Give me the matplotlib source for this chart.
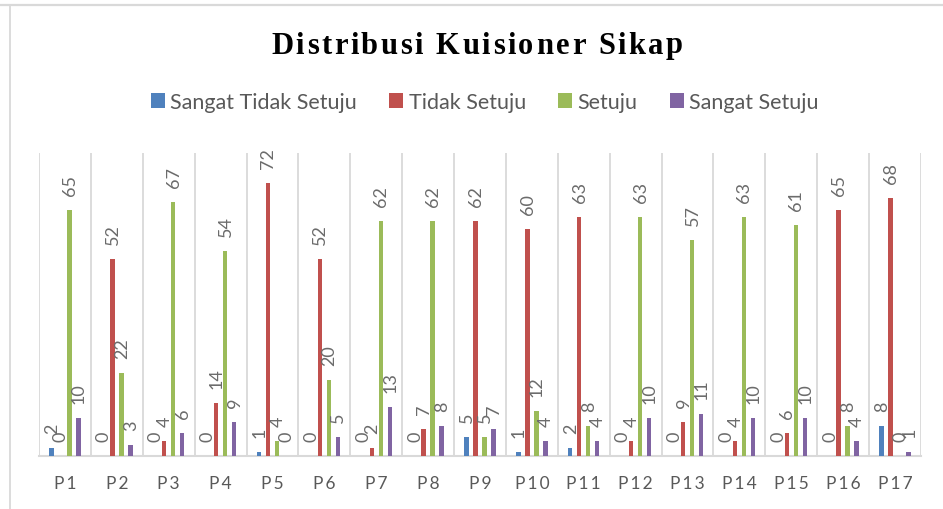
import matplotlib
matplotlib.use("Agg")
import matplotlib.pyplot as plt
import numpy as np
from matplotlib.lines import Line2D
from matplotlib.patches import Patch
from matplotlib import font_manager
from matplotlib.ft2font import FT2Font

categories = ["P1", "P2", "P3", "P4", "P5", "P6", "P7", "P8", "P9", "P10",
              "P11", "P12", "P13", "P14", "P15", "P16", "P17"]
sangat_tidak_setuju = [2, 0, 0, 0, 1, 0, 0, 0, 5, 1, 2, 0, 0, 0, 0, 0, 8]
tidak_setuju = [0, 52, 4, 14, 72, 52, 2, 7, 62, 60, 63, 4, 9, 4, 6, 65, 68]
setuju = [65, 22, 67, 54, 4, 20, 62, 62, 5, 12, 8, 63, 57, 63, 61, 8, 0]
sangat_setuju = [10, 3, 6, 9, 0, 5, 13, 8, 7, 4, 4, 10, 11, 10, 10, 4, 1]

series_names = ["Sangat Tidak Setuju", "Tidak Setuju", "Setuju", "Sangat Setuju"]
series = [sangat_tidak_setuju, tidak_setuju, setuju, sangat_setuju]
colors = ["#4F81BD", "#C0504D", "#9BBB59", "#8064A2"]
title = "Distribusi Kuisioner Sikap"

W, H = 943, 510
fig = plt.figure(figsize=(W / 100, H / 100), dpi=100)
plt.rcParams['font.family'] = ['Lato', 'DejaVu Sans']

# axes placement in pixels
left, right, bottom, top = 39, 921, 457, 154
ax = fig.add_axes([left / W, (H - bottom) / H, (right - left) / W, (bottom - top) / H])

x = np.arange(len(categories))
slot = 0.1734
bw = 0.085
label_color = "#6b6b6b"
for i, (vals, col) in enumerate(zip(series, colors)):
    offs = (i - 1.5) * slot
    ax.bar(x + offs, vals, width=bw, color=col, zorder=3)
    for xi, v in zip(x, vals):
        ax.annotate(str(v), (xi + offs, v), xytext=(0.5, 15), textcoords='offset pixels',
                    rotation=90, ha='center', va='bottom', fontsize=13,
                    color=label_color, zorder=4)

ax.set_xlim(-0.5, len(categories) - 0.5)
ax.set_ylim(0, 80)
ax.set_yticks([])
ax.set_xticks(x)
spaced = ["\u2009".join(list(c)) for c in categories]
ax.set_xticklabels(spaced, fontsize=12.5, color="#595959")
ax.tick_params(axis='x', length=0, pad=14)
ax.set_xticks(np.arange(len(categories) + 1) - 0.5, minor=True)
ax.tick_params(axis='x', which='minor', length=0)
ax.grid(axis='x', which='minor', color="#d9d9d9", linewidth=1.3, zorder=0)
ax.grid(axis='x', which='major', visible=False)
for s in ['top', 'right', 'left']:
    ax.spines[s].set_visible(False)
ax.spines['bottom'].set_color("#d9d9d9")
ax.spines['bottom'].set_linewidth(1.5)

# title with letter spacing, drawn character by character
tprops = font_manager.FontProperties(family='Liberation Serif', weight='bold')
fpath = font_manager.findfont(tprops)
ft = FT2Font(fpath)
tsize_pt = 22
ft.set_size(tsize_pt, 100)
advs = []
for ch in title:
    g = ft.load_char(ord(ch))
    advs.append(g.linearHoriAdvance / 65536.0)
target_width = 412
spacing = (target_width - sum(advs)) / (len(title) - 1)
cx = 477
xpos = cx - target_width / 2
for ch, a in zip(title, advs):
    fig.text(xpos / W, 1 - 53.5 / H, ch, fontproperties=tprops, fontsize=tsize_pt,
             ha='left', va='baseline', color='black')
    xpos += a + spacing

# legend
handles = [Patch(facecolor=c, edgecolor='none') for c in colors]
fig.legend(handles, series_names, loc='center', bbox_to_anchor=(485 / W, 1 - 103 / H),
           ncol=4, frameon=False, fontsize=15.5, handlelength=0.65, handleheight=0.65,
           handletextpad=0.25, columnspacing=1.5, labelcolor="#595959")

# outer frame lines (top and left)
fig.add_artist(Line2D([0, 1], [1 - 5.5 / H, 1 - 5.5 / H], transform=fig.transFigure,
                      color="#d9d9d9", linewidth=1.6))
fig.add_artist(Line2D([10 / W, 10 / W], [0, 1 - 5.5 / H], transform=fig.transFigure,
                      color="#d9d9d9", linewidth=1.3))

fig.savefig("out.png", dpi=100)
